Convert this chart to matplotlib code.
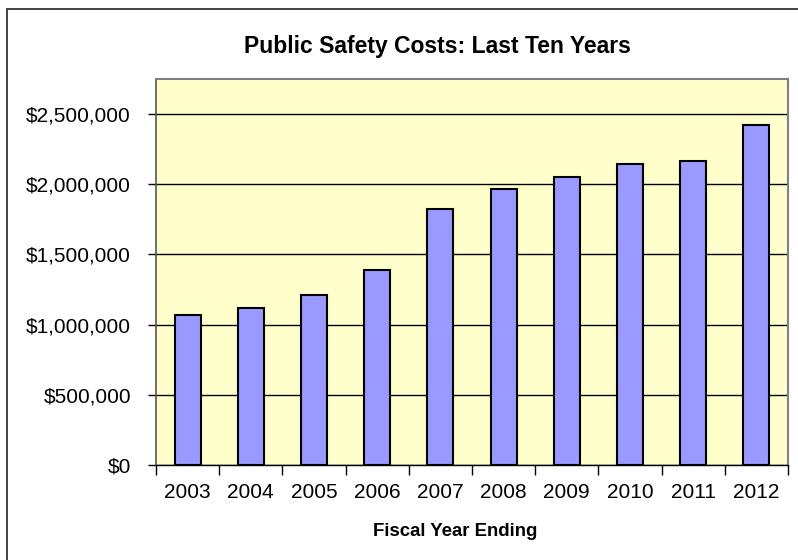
import matplotlib
matplotlib.use("Agg")
import matplotlib.pyplot as plt
from matplotlib.patches import Rectangle
from matplotlib.ticker import FuncFormatter, FixedLocator
import numpy as np

plt.rcParams['font.family'] = ['Liberation Sans', 'DejaVu Sans']

years = ["2003", "2004", "2005", "2006", "2007", "2008", "2009", "2010", "2011", "2012"]
costs = [1068000, 1118000, 1213000, 1392000, 1823000, 1969000, 2050000, 2144000, 2167000, 2421000]

W, H = 798, 560
fig = plt.figure(figsize=(W / 100, H / 100), dpi=100)
fig.patch.set_facecolor("white")

# outer chart border (only top and left visible in the crop)
fig.add_artist(Rectangle((7 / W, -0.1), 1.2, 1.1 - 9 / H, transform=fig.transFigure,
                         fill=False, edgecolor="#222222", linewidth=1.2, clip_on=False))

ax = fig.add_axes([156 / W, (H - 465) / H, (788 - 156) / W, (465 - 79) / H])
ax.set_facecolor("#FFFFCC")

x = np.arange(len(years))
ax.bar(x, costs, width=0.41, color="#9999FF", edgecolor="black", linewidth=1.5, zorder=3)

ax.set_xlim(-0.5, len(years) - 0.5)
ax.set_ylim(0, 2750000)
ax.yaxis.set_major_locator(FixedLocator([0, 500000, 1000000, 1500000, 2000000, 2500000]))
ax.yaxis.set_major_formatter(FuncFormatter(lambda v, p: "${:,.0f}".format(v)))
ax.grid(axis="y", color="black", linewidth=1.0, zorder=1)

ax.set_xticks(x)
ax.set_xticklabels(years)
ax.set_xticks(np.arange(-0.5, len(years)), minor=True)
ax.tick_params(axis="x", which="major", length=0, pad=13, labelsize=15)
ax.tick_params(axis="x", which="minor", length=7, width=1, color="black")
ax.tick_params(axis="y", length=6, width=1, color="black", pad=12, labelsize=15)

for side in ["top", "right"]:
    ax.spines[side].set_color("#808080")
    ax.spines[side].set_linewidth(1.5)
ax.spines["left"].set_color("#555555")
ax.spines["left"].set_linewidth(1.2)
ax.spines["bottom"].set_color("black")
ax.spines["bottom"].set_linewidth(1.0)

fig.text(437 / W, 1 - 46 / H, "Public Safety Costs: Last Ten Years", ha="center", va="center",
         fontsize=16.5, fontweight="bold")
fig.text(455 / W, 1 - 531 / H, "Fiscal Year Ending", ha="center", va="center",
         fontsize=13.4, fontweight="bold")

fig.savefig("out.png", dpi=100)
